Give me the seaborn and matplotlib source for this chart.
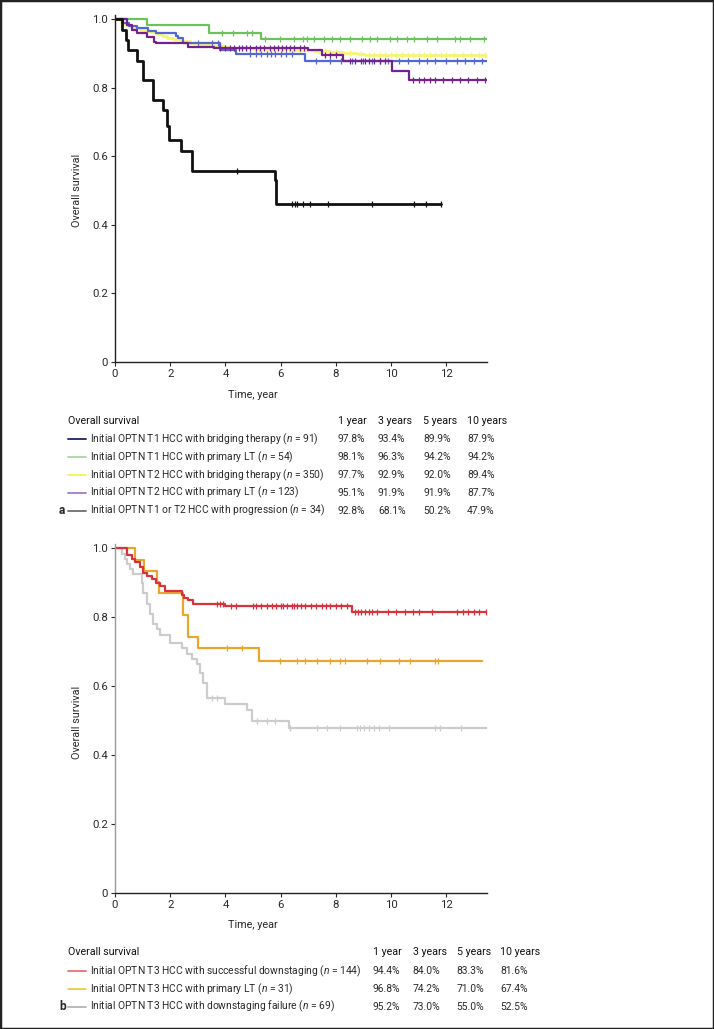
import numpy as np
import pandas as pd
import matplotlib
matplotlib.use("Agg")
import matplotlib.pyplot as plt
from matplotlib.lines import Line2D
from matplotlib.patches import Rectangle
import seaborn as sns

# ---- panel a: survival steps (time in years, survival fraction) ----
t_prog = [0, 0.24, 0.4, 0.46, 0.8, 1.0, 1.38, 1.75, 1.9, 1.95, 2.4, 2.78, 5.78, 5.85, 11.83]
s_prog = [1.0, 0.97, 0.94, 0.91, 0.88, 0.823, 0.764, 0.735, 0.69, 0.647, 0.617, 0.558, 0.53, 0.46, 0.46]
c_prog = [4.41, 6.41, 6.53, 6.61, 6.83, 7.05, 7.71, 9.31, 10.82, 11.28, 11.83]

t_t1lt = [0, 1.17, 3.39, 5.3, 13.48]
s_t1lt = [1.0, 0.984, 0.961, 0.942, 0.942]
c_t1lt = [3.87, 4.29, 4.78, 4.96, 5.44, 5.99, 6.47, 6.83, 6.95, 7.2, 7.56, 7.86, 8.16, 8.53,
          8.95, 9.25, 9.5, 9.98, 10.22, 10.58, 10.82, 11.31, 11.67, 12.33, 12.51, 12.88, 13.36]

t_t1br = [0, 0.3, 0.5, 0.8, 1.2, 1.5, 2.2, 2.3, 2.45, 3.8, 4.4, 6.9, 13.48]
s_t1br = [1.0, 0.99, 0.98, 0.975, 0.965, 0.96, 0.952, 0.945, 0.932, 0.912, 0.90, 0.879, 0.879]
c_t1br = [3.0, 3.5, 3.75, 4.9, 5.1, 5.3, 5.5, 5.65, 5.8, 6.0, 6.2, 6.4, 7.3, 7.8, 8.2, 8.6,
          9.0, 9.3, 9.6, 9.9, 10.3, 10.6, 11.0, 11.3, 11.6, 12.0, 12.4, 12.7, 13.0, 13.3]

t_t2br = [0, 0.2, 0.35, 0.5, 0.7, 0.9, 1.1, 1.3, 1.5, 1.7, 1.9, 2.1, 2.4, 2.7, 3.0, 3.4,
          4.0, 5.0, 6.5, 7.2, 7.8, 8.3, 8.8, 9.07, 13.48]
s_t2br = [1.0, 0.99, 0.985, 0.98, 0.975, 0.97, 0.966, 0.962, 0.957, 0.952, 0.947, 0.942, 0.937,
          0.932, 0.927, 0.922, 0.918, 0.915, 0.912, 0.909, 0.906, 0.903, 0.90, 0.895, 0.895]
c_t2br = [2.9, 3.1, 3.25, 3.5, 3.6, 3.8, 4.1, 4.3, 4.6, 4.8, 5.2, 5.5, 5.8, 6.1, 6.3, 6.7, 6.9,
          7.4, 7.6, 8.0, 8.5, 8.9, 9.2, 9.4, 9.6, 9.8, 10.0, 10.2, 10.4, 10.6, 10.8, 11.0, 11.2,
          11.4, 11.6, 11.8, 12.0, 12.3, 12.6, 12.9, 13.2, 13.4]

t_t2lt = [0, 0.42, 0.6, 0.8, 1.15, 1.4, 1.5, 2.66, 3.57, 7.0, 7.5, 8.28, 10.04, 10.64, 13.48]
s_t2lt = [1.0, 0.985, 0.97, 0.96, 0.95, 0.935, 0.93, 0.92, 0.918, 0.91, 0.895, 0.879, 0.85, 0.823, 0.823]
c_t2lt = [3.8, 4.0, 4.15, 4.3, 4.5, 4.6, 4.75, 4.9, 5.1, 5.25, 5.4, 5.6, 5.75, 5.9, 6.05, 6.2,
          6.35, 6.5, 6.7, 6.85, 7.6, 7.8, 8.0, 8.5, 8.7, 8.9, 9.05, 9.2, 9.4, 9.6, 9.8,
          10.8, 11.0, 11.2, 11.4, 11.6, 11.9, 12.2, 12.5, 12.8, 13.1, 13.4]

# ---- panel b ----
t_succ = [0, 0.42, 0.6, 0.72, 0.91, 1.03, 1.15, 1.35, 1.5, 1.63, 1.81, 2.42, 2.5, 2.66, 2.84, 3.99, 8.59, 13.48]
s_succ = [1.0, 0.98, 0.97, 0.96, 0.945, 0.93, 0.92, 0.91, 0.9, 0.89, 0.876, 0.865, 0.857, 0.85, 0.84, 0.833, 0.816, 0.816]
c_succ = [3.7, 3.8, 3.9, 4.2, 4.4, 5.0, 5.1, 5.3, 5.5, 5.7, 5.85, 6.0, 6.1, 6.25, 6.4, 6.5, 6.6,
          6.75, 6.9, 7.1, 7.3, 7.5, 7.65, 7.8, 8.0, 8.2, 8.4, 8.7, 8.8, 8.9, 9.05, 9.2, 9.3, 9.5,
          9.9, 10.2, 10.5, 10.8, 11.0, 11.5, 12.4, 12.6, 12.8, 13.0, 13.2, 13.45]

t_t3lt = [0, 0.74, 1.05, 1.51, 1.58, 2.45, 2.66, 3.0, 5.2, 13.3]
s_t3lt = [1.0, 0.968, 0.935, 0.903, 0.871, 0.806, 0.742, 0.71, 0.674, 0.674]
c_t3lt = [4.05, 4.6, 5.99, 6.59, 6.89, 7.32, 7.8, 8.16, 8.34, 9.13, 9.61, 10.28, 10.7, 11.6, 11.72]

t_fail = [0, 0.24, 0.36, 0.42, 0.54, 0.66, 0.97, 1.03, 1.15, 1.27, 1.39, 1.51, 1.63, 2.0, 2.42,
          2.6, 2.78, 2.96, 3.08, 3.2, 3.33, 3.99, 4.78, 4.96, 6.29, 13.48]
s_fail = [1.0, 0.985, 0.97, 0.955, 0.94, 0.925, 0.9, 0.87, 0.84, 0.81, 0.78, 0.765, 0.75, 0.725,
          0.71, 0.695, 0.68, 0.665, 0.64, 0.61, 0.565, 0.55, 0.53, 0.50, 0.478, 0.478]
c_fail = [3.5, 3.7, 5.14, 5.5, 5.8, 6.35, 7.31, 7.68, 8.16, 8.77, 8.89, 9.01, 9.19, 9.37, 9.55,
          9.92, 11.6, 11.79, 12.52]

# ---- tables ----
years_hdr = ["1 year", "3 years", "5 years", "10 years"]
labels_a = ["Initial OPTN T1 HCC with bridging therapy ($n$ = 91)",
            "Initial OPTN T1 HCC with primary LT ($n$ = 54)",
            "Initial OPTN T2 HCC with bridging therapy ($n$ = 350)",
            "Initial OPTN T2 HCC with primary LT ($n$ = 123)",
            "Initial OPTN T1 or T2 HCC with progression ($n$ = 34)"]
rates_a = [["97.8%", "93.4%", "89.9%", "87.9%"],
           ["98.1%", "96.3%", "94.2%", "94.2%"],
           ["97.7%", "92.9%", "92.0%", "89.4%"],
           ["95.1%", "91.9%", "91.9%", "87.7%"],
           ["92.8%", "68.1%", "50.2%", "47.9%"]]
legcol_a = ["#1c2468", "#a9d9a0", "#f3f35a", "#a57ad2", "#6e6e6e"]

labels_b = ["Initial OPTN T3 HCC with successful downstaging ($n$ = 144)",
            "Initial OPTN T3 HCC with primary LT ($n$ = 31)",
            "Initial OPTN T3 HCC with downstaging failure ($n$ = 69)"]
rates_b = [["94.4%", "84.0%", "83.3%", "81.6%"],
           ["96.8%", "74.2%", "71.0%", "67.4%"],
           ["95.2%", "73.0%", "55.0%", "52.5%"]]
legcol_b = ["#ea6f78", "#f0c84a", "#b4b4b4"]

sns.set_style("ticks")
plt.rcParams["font.family"] = ["Roboto", "DejaVu Sans"]
plt.rcParams["mathtext.fontset"] = "custom"
plt.rcParams["mathtext.it"] = "Roboto:italic"
plt.rcParams["mathtext.rm"] = "Roboto"
FS = 7.4
TXT = "#2a2a2a"

W, H = 714, 1029
fig = plt.figure(figsize=(W / 100, H / 100), dpi=100)


def px(x, y):
    return x / W, 1 - y / H


def km(ax, t, s, cens, color, lw=1.6):
    df = pd.DataFrame({"t": t, "s": s})
    sns.lineplot(data=df, x="t", y="s", ax=ax, color=color, lw=lw, drawstyle="steps-post",
                 estimator=None, sort=False)
    t = np.asarray(t)
    s = np.asarray(s)
    cy = s[np.searchsorted(t, cens, side="right") - 1]
    ax.plot(cens, cy, ls="none", marker="|", ms=4, mew=0.9, color=color)


def style_axes(ax, left_color):
    ax.set_xlim(0, 13.48)
    ax.set_ylim(0, 1.013)
    ax.set_xticks([0, 2, 4, 6, 8, 10, 12])
    ax.set_yticks([0, 0.2, 0.4, 0.6, 0.8, 1.0])
    ax.set_yticklabels(["0", "0.2", "0.4", "0.6", "0.8", "1.0"])
    ax.set_xlabel("")
    ax.set_ylabel("")
    sns.despine(ax=ax)
    ax.spines["left"].set_color(left_color)
    ax.spines["bottom"].set_color("#222222")
    for sp in ("left", "bottom"):
        ax.spines[sp].set_linewidth(1.0)
    ax.tick_params(direction="out", length=3, width=0.8, labelsize=FS + 0.8, colors=TXT, pad=2)


# panel a
ax1 = fig.add_axes([115 / W, 1 - 362 / H, 372 / W, 347 / H])
km(ax1, t_t1lt, s_t1lt, c_t1lt, "#6cc35c")
km(ax1, t_t2br, s_t2br, c_t2br, "#f5f56e", lw=1.9)
km(ax1, t_t1br, s_t1br, c_t1br, "#5467d2")
km(ax1, t_t2lt, s_t2lt, c_t2lt, "#72238f")
km(ax1, t_prog, s_prog, c_prog, "#111111", lw=2.0)
style_axes(ax1, "#222222")

# panel b
ax2 = fig.add_axes([115 / W, 1 - 893 / H, 372 / W, 349 / H])
km(ax2, t_fail, s_fail, c_fail, "#cccccc")
km(ax2, t_t3lt, s_t3lt, c_t3lt, "#eaa52e")
km(ax2, t_succ, s_succ, c_succ, "#d8323f")
style_axes(ax2, "#9a9a9a")

for ycen, ylab in [(190, 395), (722, 925)]:
    fig.text(*px(77, ycen), "Overall survival", rotation=90, ha="center", va="center",
             fontsize=FS + 0.4, color=TXT)
    fig.text(*px(253, ylab), "Time, year", ha="center", va="center", fontsize=FS + 0.4, color=TXT)


def table(y_hdr, y_rows, col_x, labels, rates, colors, tag):
    fig.text(*px(68, y_hdr), "Overall survival", fontsize=FS + 0.3, va="center", color="#111111")
    for cx, h in zip(col_x, years_hdr):
        fig.text(*px(cx, y_hdr), h, fontsize=FS + 0.3, va="center", color="#111111")
    for yr, lab, rr, col in zip(y_rows, labels, rates, colors):
        x0, y0 = px(68, yr)
        x1, _ = px(86, yr)
        fig.add_artist(Line2D([x0, x1], [y0, y0], color=col, lw=1.3, transform=fig.transFigure))
        fig.text(*px(90, yr), lab, fontsize=FS, va="center", color=TXT)
        for cx, v in zip(col_x, rr):
            fig.text(*px(cx, yr), v, fontsize=FS, va="center", color=TXT)
    fig.text(*px(59, y_rows[-1]), tag, fontsize=FS + 1.2, fontweight="bold", va="center")


table(420.7, [439.3, 457, 475, 492.7, 510.7], [338, 378, 423, 467], labels_a, rates_a, legcol_a, "a")
table(951.7, [971, 989.3, 1006.7], [372.7, 412.7, 456.7, 500], labels_b, rates_b, legcol_b, "b")

fig.add_artist(Rectangle((0, 0), 1, 1, transform=fig.transFigure, fill=False,
                         edgecolor="#222222", lw=2.5))

fig.savefig("out.png", dpi=100)
